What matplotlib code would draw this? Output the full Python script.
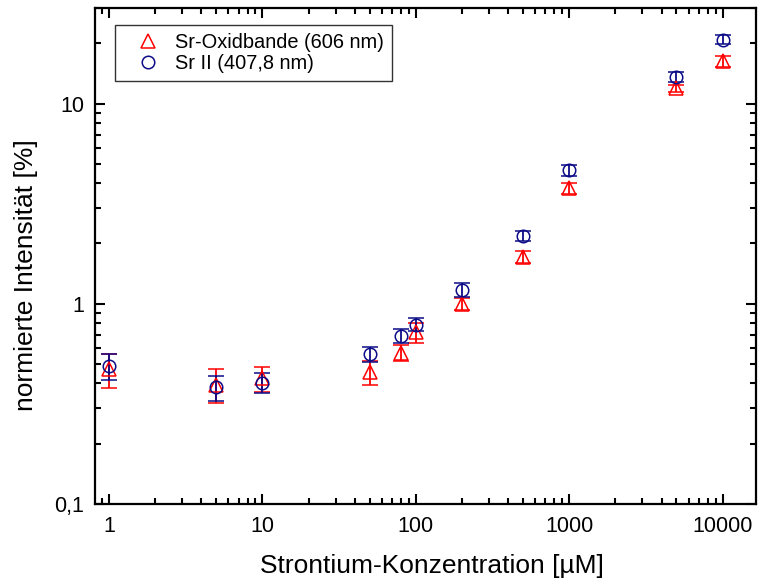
import numpy as np
import matplotlib
matplotlib.use('Agg')
import matplotlib.pyplot as plt
from matplotlib.lines import Line2D
from matplotlib.ticker import FixedLocator, LogLocator, FuncFormatter, NullFormatter

plt.rcParams['font.family'] = ['Liberation Sans', 'DejaVu Sans']

# ============================================================
# DATA
# ============================================================
conc = [1, 5, 10, 50, 80, 100, 200, 500, 1000, 5000, 10000]

oxid = [0.47, 0.395, 0.425, 0.455, 0.57, 0.72, 1.0, 1.71, 3.78, 11.9, 16.3]
oxid_err = [0.09, 0.076, 0.061, 0.06, 0.054, 0.085, 0.073, 0.118, 0.23, 0.5, 1.0]

sr2 = [0.49, 0.382, 0.404, 0.562, 0.69, 0.786, 1.173, 2.19, 4.66, 13.56, 20.8]
sr2_err = [0.074, 0.055, 0.046, 0.048, 0.056, 0.059, 0.09, 0.126, 0.295, 0.78, 1.08]

label_oxid = 'Sr-Oxidbande (606 nm)'
label_sr2 = 'Sr II (407,8 nm)'

# ============================================================
# PLOT
# ============================================================
fig = plt.figure(figsize=(7.58, 5.81), dpi=100)
ax = fig.add_axes([95/758, 1 - 504/581, (756 - 95)/758, (504 - 8)/581])

red = '#ff0000'
blue = '#0c0c88'

ax.errorbar(conc, oxid, yerr=oxid_err, fmt='^', ms=9.5, mfc='none', mec=red, mew=1.1,
            ecolor=red, elinewidth=1.3, capsize=5.8, capthick=1.5)
ax.errorbar(conc, sr2, yerr=sr2_err, fmt='o', ms=9, mfc='none', mec=blue, mew=1.1,
            ecolor=blue, elinewidth=1.3, capsize=5.8, capthick=1.5)

ax.set_xscale('log')
ax.set_yscale('log')
ax.set_xlim(0.81, 16500)
ax.set_ylim(0.1, 30)

ax.xaxis.set_major_locator(FixedLocator([1, 10, 100, 1000, 10000]))
ax.xaxis.set_major_formatter(FuncFormatter(lambda v, p: f'{v:g}' if v < 1e4 else '10000'))
ax.xaxis.set_minor_locator(LogLocator(base=10, subs=np.arange(2, 10)))
ax.xaxis.set_minor_formatter(NullFormatter())

ax.yaxis.set_major_locator(FixedLocator([0.1, 1, 10]))
ax.yaxis.set_major_formatter(FuncFormatter(lambda v, p: f'{v:g}'.replace('.', ',')))
ax.yaxis.set_minor_locator(LogLocator(base=10, subs=np.arange(2, 10)))
ax.yaxis.set_minor_formatter(NullFormatter())

ax.tick_params(which='both', direction='in', top=True, right=True, width=1.5, labelsize=15.5)
ax.tick_params(which='major', length=7)
ax.tick_params(which='minor', length=4)
ax.tick_params(axis='x', pad=9)
ax.tick_params(axis='y', pad=8)
for s in ax.spines.values():
  s.set_linewidth(1.6)

ax.set_xlabel('Strontium-Konzentration [µM]', fontsize=19)
ax.set_ylabel('normierte Intensität [%]', fontsize=19)
ax.xaxis.set_label_coords(0.51, -0.1)
ax.yaxis.set_label_coords(-0.086, 0.462)

# legend shows markers only
handles = [
  Line2D([], [], ls='none', marker='^', ms=9.5, mfc='none', mec=red, mew=1.1),
  Line2D([], [], ls='none', marker='o', ms=9, mfc='none', mec=blue, mew=1.1),
]
leg = ax.legend(handles, [label_oxid, label_sr2], loc='upper left',
                bbox_to_anchor=((115 - 95)/661, 1 - (25 - 8)/496),
                fontsize=14.4, frameon=True, fancybox=False, borderaxespad=0,
                handletextpad=0.1, labelspacing=0.12, borderpad=0.4, handlelength=2.5)
leg.get_frame().set_edgecolor('#333333')
leg.get_frame().set_linewidth(1.0)
leg.get_frame().set_alpha(1)

plt.savefig('out.png', dpi=100)
